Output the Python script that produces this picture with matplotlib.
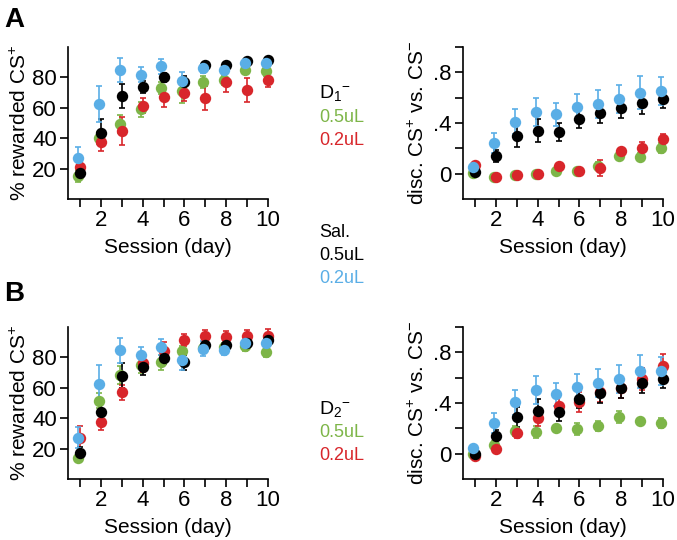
import matplotlib
matplotlib.use("Agg")
import matplotlib.pyplot as plt
import numpy as np

plt.rcParams['font.family'] = ['Liberation Sans', 'DejaVu Sans']
plt.rcParams['mathtext.fontset'] = 'custom'
plt.rcParams['mathtext.rm'] = 'Liberation Sans'
plt.rcParams['mathtext.it'] = 'Liberation Sans'
plt.rcParams['mathtext.bf'] = 'Liberation Sans:bold'

sessions = np.arange(1, 11)

GREEN = '#7db548'
RED = '#d8262b'
BLACK = '#000000'
BLUE = '#5aaee6'

# ---- Panel A: D1 antagonist ----
A_rew_green = [15.2, 40.4, 49.2, 59.1, 73.0, 71.2, 76.7, 78.2, 85.0, 84.0]
A_rew_green_err = [4, 4, 6, 5, 4, 8, 4, 3, 3, 3]
A_rew_red = [21.3, 37.8, 44.8, 61.3, 66.8, 69.5, 66.4, 76.7, 71.9, 78.5]
A_rew_red_err = [3, 6, 9, 5, 6, 5, 8, 6, 8, 5]
A_rew_black = [16.9, 43.7, 67.9, 73.8, 80.0, 76.7, 88.1, 88.1, 91.0, 91.4]
A_rew_black_err = [4, 9, 8, 4, 3, 4, 2, 2, 2, 2]
A_rew_blue = [27.3, 62.4, 84.8, 81.8, 87.3, 77.8, 85.9, 85.1, 89.5, 89.2]
A_rew_blue_err = [7, 12, 8, 5, 5, 6, 3, 2, 2, 2]

A_disc_green = [0.005, -0.03, -0.01, -0.005, 0.025, 0.02, 0.06, 0.14, 0.13, 0.20]
A_disc_green_err = [0.02, 0.02, 0.02, 0.02, 0.02, 0.02, 0.03, 0.02, 0.03, 0.04]
A_disc_red = [0.065, -0.025, -0.01, 0.0, 0.06, 0.025, 0.045, 0.18, 0.20, 0.27]
A_disc_red_err = [0.02, 0.02, 0.02, 0.02, 0.02, 0.02, 0.06, 0.02, 0.05, 0.04]
A_disc_black = [0.01, 0.14, 0.30, 0.34, 0.33, 0.43, 0.48, 0.52, 0.56, 0.59]
A_disc_black_err = [0.02, 0.05, 0.09, 0.09, 0.07, 0.07, 0.08, 0.08, 0.09, 0.07]
A_disc_blue = [0.05, 0.24, 0.41, 0.49, 0.47, 0.53, 0.55, 0.59, 0.64, 0.65]
A_disc_blue_err = [0.02, 0.08, 0.10, 0.11, 0.09, 0.10, 0.11, 0.11, 0.13, 0.11]

# ---- Panel B: D2 antagonist ----
B_rew_green = [14.1, 51.6, 68.2, 74.7, 76.9, 84.2, 86.1, 86.8, 87.4, 83.3]
B_rew_green_err = [3, 5, 6, 5, 5, 3, 3, 3, 3, 3]
B_rew_red = [27.0, 37.3, 57.0, 76.3, 83.9, 91.6, 93.8, 93.3, 93.8, 94.4]
B_rew_red_err = [8, 5, 5, 6, 6, 4, 4, 4, 4, 4]
B_rew_black = [17.2, 44.1, 68.0, 73.7, 79.8, 76.9, 87.9, 88.3, 89.6, 91.2]
B_rew_black_err = [4, 5, 8, 5, 4, 5, 3, 2, 2, 2]
B_rew_blue = [27.3, 62.7, 84.6, 81.8, 86.8, 78.0, 85.7, 84.6, 89.6, 89.4]
B_rew_blue_err = [7, 12, 8, 5, 5, 6, 5, 3, 2, 3]

B_disc_green = [0.0, 0.07, 0.18, 0.17, 0.20, 0.195, 0.22, 0.29, 0.255, 0.24]
B_disc_green_err = [0.03, 0.03, 0.04, 0.05, 0.03, 0.05, 0.04, 0.05, 0.03, 0.04]
B_disc_red = [-0.015, 0.035, 0.16, 0.28, 0.38, 0.41, 0.49, 0.52, 0.59, 0.69]
B_disc_red_err = [0.03, 0.02, 0.04, 0.06, 0.08, 0.08, 0.08, 0.08, 0.09, 0.10]
B_disc_black = [0.0, 0.14, 0.29, 0.34, 0.33, 0.43, 0.48, 0.52, 0.56, 0.59]
B_disc_black_err = [0.02, 0.05, 0.08, 0.09, 0.07, 0.07, 0.08, 0.08, 0.08, 0.07]
B_disc_blue = [0.045, 0.24, 0.405, 0.50, 0.47, 0.53, 0.56, 0.59, 0.65, 0.65]
B_disc_blue_err = [0.02, 0.08, 0.10, 0.11, 0.09, 0.10, 0.11, 0.11, 0.13, 0.11]

x_tick_labels = ['', '2', '', '4', '', '6', '', '8', '', '10']
rew_ticks = [20, 40, 60, 80]
disc_ticks = [0, 0.2, 0.4, 0.6, 0.8, 1.0]
disc_tick_labels = ['0', '', '.4', '', '.8', '']

W, H = 677, 540
fig = plt.figure(figsize=(W / 100, H / 100), dpi=100)

def axes_px(x0, x1, ytop, ybot):
    return fig.add_axes([x0 / W, 1 - ybot / H, (x1 - x0) / W, (ybot - ytop) / H])

def draw(ax, series, ylim, yticks, yticklabels, ylabel, label_x):
    offsets = {'g': -0.1, 'r': 0.0, 'k': 0.0, 'b': -0.1}
    for key, color, vals, errs in series:
        ax.errorbar(sessions + offsets[key], vals, yerr=errs, fmt='o', color=color,
                    ms=8.2, mec='none', ecolor=color, elinewidth=1.2, capsize=2.2,
                    capthick=1.2, clip_on=False, zorder=3)
    ax.set_xlim(0.43, 10.0)
    ax.set_ylim(*ylim)
    ax.set_xticks(sessions)
    ax.set_xticklabels(x_tick_labels)
    ax.set_yticks(yticks)
    ax.set_yticklabels(yticklabels)
    for s in ['top', 'right']:
        ax.spines[s].set_visible(False)
    for s in ['left', 'bottom']:
        ax.spines[s].set_linewidth(1.2)
    ax.tick_params(direction='out', length=6, width=1.2, labelsize=16, pad=2)
    ax.set_xlabel('Session (day)', fontsize=15, labelpad=5)
    ax.set_ylabel(ylabel, fontsize=15)
    ax.yaxis.set_label_coords(label_x, 0.5)

rew_label = '% rewarded CS$^{+}$'
disc_label = 'disc. CS$^{+}$ vs. CS$^{-}$'

axA1 = axes_px(68, 268, 47, 199)
draw(axA1, [('g', GREEN, A_rew_green, A_rew_green_err),
            ('r', RED, A_rew_red, A_rew_red_err),
            ('k', BLACK, A_rew_black, A_rew_black_err),
            ('b', BLUE, A_rew_blue, A_rew_blue_err)],
     (0, 100), rew_ticks, [str(t) for t in rew_ticks], rew_label, -0.19)

axA2 = axes_px(463, 663, 47, 199)
draw(axA2, [('g', GREEN, A_disc_green, A_disc_green_err),
            ('r', RED, A_disc_red, A_disc_red_err),
            ('k', BLACK, A_disc_black, A_disc_black_err),
            ('b', BLUE, A_disc_blue, A_disc_blue_err)],
     (-0.2, 1.0), disc_ticks, disc_tick_labels, disc_label, -0.175)

axB1 = axes_px(68, 268, 327, 479)
draw(axB1, [('g', GREEN, B_rew_green, B_rew_green_err),
            ('r', RED, B_rew_red, B_rew_red_err),
            ('k', BLACK, B_rew_black, B_rew_black_err),
            ('b', BLUE, B_rew_blue, B_rew_blue_err)],
     (0, 100), rew_ticks, [str(t) for t in rew_ticks], rew_label, -0.19)

axB2 = axes_px(463, 663, 327, 479)
draw(axB2, [('g', GREEN, B_disc_green, B_disc_green_err),
            ('r', RED, B_disc_red, B_disc_red_err),
            ('k', BLACK, B_disc_black, B_disc_black_err),
            ('b', BLUE, B_disc_blue, B_disc_blue_err)],
     (-0.2, 1.0), disc_ticks, disc_tick_labels, disc_label, -0.175)

def ftext(x, y, s, **kw):
    fig.text(x / W, 1 - y / H, s, **kw)

# panel letters
ftext(4, 27, 'A', fontsize=20, fontweight='bold', va='baseline')
ftext(4, 301, 'B', fontsize=20, fontweight='bold', va='baseline')

# group labels
ftext(319, 98, 'D$_{1}$$^{-}$', fontsize=14, va='baseline')
ftext(319, 122, '0.5uL', fontsize=13, color=GREEN, va='baseline')
ftext(319, 145, '0.2uL', fontsize=13, color=RED, va='baseline')
ftext(319, 237, 'Sal.', fontsize=13, color=BLACK, va='baseline')
ftext(319, 260, '0.5uL', fontsize=13, color=BLACK, va='baseline')
ftext(319, 283, '0.2uL', fontsize=13, color=BLUE, va='baseline')
ftext(319, 414, 'D$_{2}$$^{-}$', fontsize=14, va='baseline')
ftext(319, 437, '0.5uL', fontsize=13, color=GREEN, va='baseline')
ftext(319, 460, '0.2uL', fontsize=13, color=RED, va='baseline')

fig.savefig('out.png', dpi=100)
